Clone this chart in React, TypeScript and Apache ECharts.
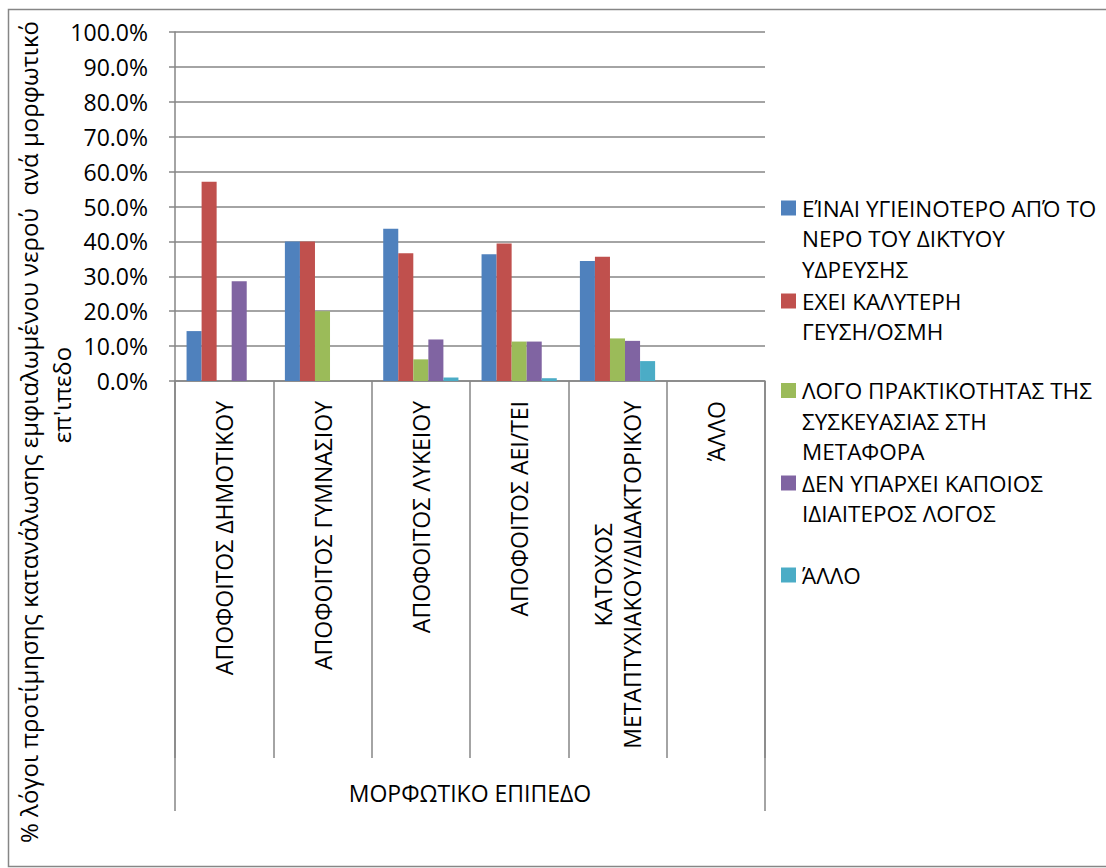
import React, { useEffect, useRef } from 'react';
import * as echarts from 'echarts';

const categories = [
  'ΑΠΟΦΟΙΤΟΣ ΔΗΜΟΤΙΚΟΥ',
  'ΑΠΟΦΟΙΤΟΣ ΓΥΜΝΑΣΙΟΥ',
  'ΑΠΟΦΟΙΤΟΣ ΛΥΚΕΙΟΥ',
  'ΑΠΟΦΟΙΤΟΣ ΑΕΙ/ΤΕΙ',
  'ΚΑΤΟΧΟΣ\nΜΕΤΑΠΤΥΧΙΑΚΟΥ/ΔΙΔΑΚΤΟΡΙΚΟΥ',
  'ΆΛΛΟ',
];
const groupLabel = ['ΜΟΡΦΩΤΙΚΟ ΕΠΙΠΕΔΟ'];

const legendLines = [
  ['ΕΊΝΑΙ ΥΓΙΕΙΝΟΤΕΡΟ ΑΠΌ ΤΟ', 'ΝΕΡΟ ΤΟΥ ΔΙΚΤΥΟΥ', 'ΥΔΡΕΥΣΗΣ'],
  ['ΕΧΕΙ ΚΑΛΥΤΕΡΗ', 'ΓΕΥΣΗ/ΟΣΜΗ'],
  ['ΛΟΓΟ ΠΡΑΚΤΙΚΟΤΗΤΑΣ ΤΗΣ', 'ΣΥΣΚΕΥΑΣΙΑΣ ΣΤΗ', 'ΜΕΤΑΦΟΡΑ'],
  ['ΔΕΝ ΥΠΑΡΧΕΙ ΚΑΠΟΙΟΣ', 'ΙΔΙΑΙΤΕΡΟΣ ΛΟΓΟΣ'],
  ['ΆΛΛΟ'],
];

const healthier = [14.3, 40.0, 43.6, 36.3, 34.4, 0];
const betterTaste = [57.1, 40.0, 36.6, 39.4, 35.6, 0];
const practical = [0, 20.0, 6.2, 11.3, 12.2, 0];
const noReason = [28.6, 0, 11.9, 11.3, 11.5, 0];
const other = [0, 0, 1.0, 0.8, 5.7, 0];

const seriesValues = [healthier, betterTaste, practical, noReason, other];
const colors = ['#4F81BD', '#C0504D', '#9BBB59', '#8064A2', '#4BACC6'];

const yMin = 0;
const yMax = 100;
const yStep = 10;

const yTitleLine1 = '% λόγοι προτίμησης κατανάλωσης εμφιαλωμένου νερού  ανά μορφωτικό';
const yTitleLine2 = "επ'ιπεδο";

const FONT = 'Open Sans';
const FS = 23;
const LFS = 22.5;
const TFS = 24;
const GRAY = '#868686';

export default function App() {
  const ref = useRef<HTMLDivElement>(null);

  useEffect(() => {
    if (!ref.current) return;
    const chart = echarts.init(ref.current, undefined, { renderer: 'svg' });

    const legendTop = [208, 301, 390.5, 483, 575];
    const lh = 30.6;
    const legendGraphics: any[] = [];
    legendLines.forEach((lines, i) => {
      legendGraphics.push({
        type: 'rect',
        shape: { x: 781, y: legendTop[i] - 7.5, width: 15, height: 15 },
        style: { fill: colors[i] },
      });
      lines.forEach((line, j) => {
        legendGraphics.push({
          type: 'text',
          x: 802,
          y: legendTop[i] + j * lh,
          style: {
            text: line,
            font: `${LFS}px "${FONT}"`,
            fill: '#000',
            lineHeight: 24,
            verticalAlign: 'middle',
            align: 'left',
          },
        });
      });
    });

    const option: any = {
      animation: false,
      backgroundColor: '#fff',
      textStyle: { fontFamily: FONT },
      grid: [
        { left: 175, top: 32, width: 590, height: 349, containLabel: false },
        { left: 175, top: 371, width: 590, height: 10, containLabel: false },
      ],
      xAxis: [
        {
          type: 'category',
          gridIndex: 0,
          data: categories,
          boundaryGap: true,
          axisLine: { show: true, lineStyle: { color: GRAY, width: 1.5 } },
          axisTick: { show: true, interval: 0, length: 377, lineStyle: { color: GRAY, width: 1.5 } },
          axisLabel: {
            interval: 0,
            rotate: 90,
            margin: 20,
            fontSize: FS,
            fontFamily: FONT,
            color: '#000',
            lineHeight: 29,
            formatter: (v: string) =>
              v
                .split('\n')
                .map((s) => `{c|${s}}`)
                .join('\n'),
            rich: { c: { align: 'center', fontSize: FS, fontFamily: FONT, color: '#000', lineHeight: 29 } },
          },
          splitLine: { show: false },
        },
        {
          type: 'category',
          gridIndex: 1,
          data: groupLabel,
          boundaryGap: true,
          axisLine: { show: false },
          axisTick: { show: true, interval: 0, length: 430, lineStyle: { color: GRAY, width: 1.5 } },
          axisLabel: {
            interval: 0,
            margin: 400,
            fontSize: FS,
            fontFamily: FONT,
            color: '#000',
          },
        },
      ],
      yAxis: [
        {
          type: 'value',
          gridIndex: 0,
          min: yMin,
          max: yMax,
          interval: yStep,
          axisLine: { show: true, lineStyle: { color: GRAY, width: 1.5 } },
          axisTick: { show: true, inside: false, length: 6, lineStyle: { color: GRAY, width: 1.5 } },
          axisLabel: {
            margin: 27,
            fontSize: FS,
            fontFamily: FONT,
            color: '#000',
            formatter: (v: number) => v.toFixed(1) + '%',
          },
          splitLine: { show: true, lineStyle: { color: GRAY, width: 1.5 } },
        },
        { type: 'value', gridIndex: 1, show: false },
      ],
      series: seriesValues.map((vals, i) => ({
        type: 'bar',
        name: legendLines[i].join(' '),
        xAxisIndex: 0,
        yAxisIndex: 0,
        data: vals,
        barGap: '0%',
        barCategoryGap: '23.5%',
        itemStyle: { color: colors[i] },
      })),
      graphic: [
        {
          type: 'rect',
          shape: { x: 8.5, y: 9.5, width: 1120, height: 857 },
          style: { fill: 'none', stroke: GRAY, lineWidth: 1.5 },
          silent: true,
        },
        {
          type: 'text',
          x: 28,
          y: 432,
          rotation: Math.PI / 2,
          style: {
            text: yTitleLine1,
            font: `${TFS}px "${FONT}"`,
            fill: '#000',
            align: 'center',
            verticalAlign: 'middle',
          },
        },
        {
          type: 'text',
          x: 61,
          y: 395,
          rotation: Math.PI / 2,
          style: {
            text: yTitleLine2,
            font: `${TFS}px "${FONT}"`,
            fill: '#000',
            align: 'center',
            verticalAlign: 'middle',
          },
        },
        ...legendGraphics,
      ],
    };

    chart.setOption(option);
    return () => chart.dispose();
  }, []);

  return (
    <div
      ref={ref}
      style={{ position: 'fixed', left: 0, top: 0, width: 1106, height: 868, background: '#fff' }}
    />
  );
}
